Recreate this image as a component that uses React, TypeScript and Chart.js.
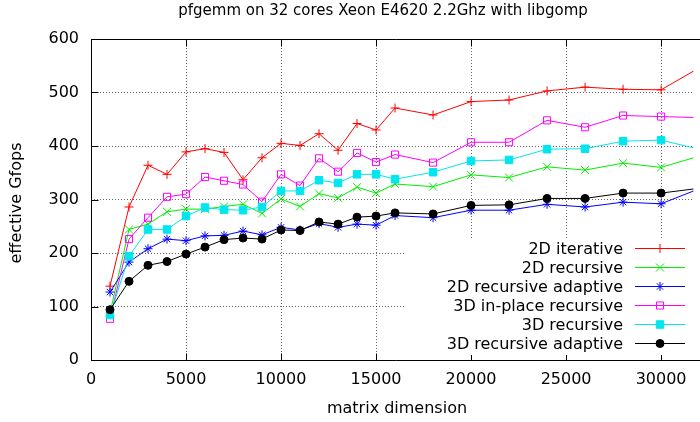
import React, { useEffect, useRef } from 'react';
import { Chart, registerables } from 'chart.js';

Chart.register(...registerables);

const matrixDims = [
  1000, 2000, 3000, 4000, 5000, 6000, 7000, 8000, 9000, 10000, 11000, 12000,
  13000, 14000, 15000, 16000, 18000, 20000, 22000, 24000, 26000, 28000, 30000, 32000,
];

const iterative2D = [138, 286, 364, 347, 389, 395, 388, 337, 378, 405, 401, 423, 392, 442, 430, 471, 458, 483, 486, 503, 510, 506, 505, 546];
const recursive2D = [88, 244, 254, 277, 282, 282, 287, 291, 274, 301, 287, 311, 303, 323, 312, 329, 324, 346, 341, 361, 355, 368, 360, 381];
const recursiveAdaptive2D = [127, 183, 208, 226, 223, 232, 233, 241, 234, 248, 243, 255, 248, 254, 252, 270, 266, 280, 280, 291, 286, 295, 292, 320];
const inPlaceRecursive3D = [77, 226, 266, 305, 310, 342, 335, 328, 296, 347, 326, 377, 352, 387, 370, 384, 369, 407, 407, 448, 435, 457, 455, 453];
const recursive3D = [84, 194, 244, 244, 269, 285, 281, 280, 286, 316, 316, 336, 331, 347, 347, 338, 351, 372, 374, 394, 395, 409, 411, 394];
const recursiveAdaptive3D = [94, 147, 177, 184, 198, 211, 225, 228, 226, 243, 242, 258, 254, 267, 269, 275, 273, 289, 290, 302, 302, 312, 312, 321];

const seriesLabels = [
  '2D iterative',
  '2D recursive',
  '2D recursive adaptive',
  '3D in-place recursive',
  '3D recursive',
  '3D recursive adaptive',
];

const xTickValues = [0, 5000, 10000, 15000, 20000, 25000, 30000];
const yTickValues = [0, 100, 200, 300, 400, 500, 600];

const titleText = 'pfgemm on 32 cores Xeon E4620 2.2Ghz with libgomp';
const xTitle = 'matrix dimension';
const yTitle = 'effective Gfops';

const FONT = '"DejaVu Sans", sans-serif';

function drawMarker(
  ctx: CanvasRenderingContext2D,
  style: string,
  x: number,
  y: number,
  r: number,
  stroke: string,
  fill: string
) {
  ctx.save();
  ctx.setLineDash([]);
  ctx.lineWidth = 1;
  ctx.strokeStyle = stroke;
  ctx.fillStyle = fill;
  ctx.beginPath();
  const o = r * Math.SQRT1_2;
  switch (style) {
    case 'cross':
      ctx.moveTo(x, y - r);
      ctx.lineTo(x, y + r);
      ctx.moveTo(x - r, y);
      ctx.lineTo(x + r, y);
      ctx.stroke();
      break;
    case 'crossRot':
      ctx.moveTo(x - o, y - o);
      ctx.lineTo(x + o, y + o);
      ctx.moveTo(x - o, y + o);
      ctx.lineTo(x + o, y - o);
      ctx.stroke();
      break;
    case 'star':
      ctx.moveTo(x, y - r);
      ctx.lineTo(x, y + r);
      ctx.moveTo(x - r, y);
      ctx.lineTo(x + r, y);
      ctx.moveTo(x - o, y - o);
      ctx.lineTo(x + o, y + o);
      ctx.moveTo(x - o, y + o);
      ctx.lineTo(x + o, y - o);
      ctx.stroke();
      break;
    case 'rect':
      ctx.rect(x - o, y - o, 2 * o, 2 * o);
      ctx.fill();
      ctx.stroke();
      break;
    default:
      ctx.arc(x, y, r, 0, Math.PI * 2);
      ctx.fill();
      ctx.stroke();
  }
  ctx.restore();
}

const gnuplotDecor = {
  id: 'gnuplotDecor',
  beforeDatasetsDraw(chart: any) {
    const { ctx, chartArea: a, scales } = chart;
    const xs = scales.x;
    const ys = scales.y;
    ctx.save();
    ctx.setLineDash([]);
    ctx.strokeStyle = '#000';
    ctx.lineWidth = 1;
    // border (left, top, bottom)
    const L = Math.round(a.left) + 0.5;
    const T = Math.round(a.top) + 0.5;
    const B = Math.round(a.bottom) + 0.5;
    ctx.beginPath();
    ctx.moveTo(a.right + 10, T);
    ctx.lineTo(L, T);
    ctx.lineTo(L, B);
    ctx.lineTo(a.right + 10, B);
    ctx.stroke();
    // inward ticks
    const tl = 7;
    ctx.beginPath();
    xs.ticks.forEach((t: any) => {
      const p = Math.round(xs.getPixelForValue(t.value)) + 0.5;
      ctx.moveTo(p, B);
      ctx.lineTo(p, B - tl);
      ctx.moveTo(p, T);
      ctx.lineTo(p, T + tl);
    });
    ys.ticks.forEach((t: any) => {
      const p = Math.round(ys.getPixelForValue(t.value)) + 0.5;
      ctx.moveTo(L, p);
      ctx.lineTo(L + tl, p);
    });
    ctx.stroke();

    // legend (key) box, opaque
    ctx.fillStyle = '#fff';
    ctx.fillRect(405, 238, 287, 117);
    ctx.font = `16px ${FONT}`;
    ctx.textAlign = 'right';
    ctx.textBaseline = 'alphabetic';
    chart.data.datasets.forEach((ds: any, i: number) => {
      const base = 253.5 + i * 19;
      const ly = Math.round(base - 5.5) + 0.5;
      ctx.fillStyle = '#000';
      ctx.fillText(ds.label, 623, base);
      ctx.beginPath();
      ctx.strokeStyle = ds.borderColor;
      ctx.lineWidth = 1;
      ctx.moveTo(635, ly);
      ctx.lineTo(685, ly);
      ctx.stroke();
      drawMarker(ctx, ds.pointStyle, 660, ly, ds.pointRadius, ds.borderColor, ds.pointBackgroundColor);
    });
    ctx.restore();
  },
  afterDraw(chart: any) {
    const { ctx } = chart;
    ctx.save();
    ctx.fillStyle = '#000';
    ctx.textBaseline = 'alphabetic';
    ctx.textAlign = 'center';
    ctx.font = `15px ${FONT}`;
    ctx.fillText(titleText, 383, 15);
    ctx.font = `16px ${FONT}`;
    ctx.fillText(xTitle, 397, 413);
    ctx.translate(21, 203);
    ctx.rotate(-Math.PI / 2);
    ctx.fillText(yTitle, 0, 0);
    ctx.restore();
  },
};

function makeDataset(label: string, data: number[], color: string, style: string, radius: number, fill: string, order: number) {
  return {
    label,
    data: data.map((v, i) => ({ x: matrixDims[i], y: v })),
    borderColor: color,
    backgroundColor: color,
    borderWidth: 1,
    pointStyle: style,
    pointRadius: radius,
    pointHoverRadius: radius,
    pointBorderWidth: 1,
    pointBorderColor: color,
    pointBackgroundColor: fill,
    tension: 0,
    fill: false,
    order,
  };
}

export default function App() {
  const ref = useRef<HTMLCanvasElement>(null);
  useEffect(() => {
    document.body.style.margin = '0';
    const canvas = ref.current!;
    const chart = new Chart(canvas, {
      type: 'line',
      data: {
        datasets: [
          makeDataset(seriesLabels[0], iterative2D, '#ff0000', 'cross', 4.5, '#ff0000', 6),
          makeDataset(seriesLabels[1], recursive2D, '#00ee00', 'crossRot', 5.6, '#00ee00', 5),
          makeDataset(seriesLabels[2], recursiveAdaptive2D, '#0000ff', 'star', 4.5, '#0000ff', 4),
          makeDataset(seriesLabels[3], inPlaceRecursive3D, '#ff00ff', 'rect', 5, 'rgba(0,0,0,0)', 3),
          makeDataset(seriesLabels[4], recursive3D, '#00e5ee', 'rect', 5.3, '#00e5ee', 2),
          makeDataset(seriesLabels[5], recursiveAdaptive3D, '#000000', 'circle', 4, '#000000', 1),
        ] as any,
      },
      options: {
        animation: false,
        responsive: false,
        events: [],
        layout: { padding: { top: 39, left: 0, right: 0, bottom: 0 } },
        plugins: {
          legend: { display: false },
          title: { display: false },
          tooltip: { enabled: false },
        },
        scales: {
          x: {
            type: 'linear',
            min: 0,
            max: 31700,
            afterFit: (s: any) => {
              s.height = 62;
            },
            afterBuildTicks: (s: any) => {
              s.ticks = xTickValues.map((v) => ({ value: v }));
            },
            ticks: {
              autoSkip: false,
              maxRotation: 0,
              padding: 10,
              color: '#000',
              font: { family: FONT, size: 16 },
              callback: (v: any) => String(v),
            },
            grid: {
              drawTicks: false,
              color: 'rgba(0,0,0,0.6)',
              lineWidth: 1,
            },
            border: { display: false, dash: [1, 2] },
          },
          y: {
            type: 'linear',
            min: 0,
            max: 600,
            afterFit: (s: any) => {
              s.width = 91;
            },
            afterBuildTicks: (s: any) => {
              s.ticks = yTickValues.map((v) => ({ value: v }));
            },
            ticks: {
              padding: 12,
              color: '#000',
              font: { family: FONT, size: 16 },
              callback: (v: any) => String(v),
            },
            grid: {
              drawTicks: false,
              color: 'rgba(0,0,0,0.6)',
              lineWidth: 1,
            },
            border: { display: false, dash: [1, 2] },
          },
        },
      },
      plugins: [gnuplotDecor],
    });
    return () => chart.destroy();
  }, []);
  return (
    <div style={{ width: 700, height: 422, overflow: 'hidden' }}>
      <canvas ref={ref} width={700} height={422} style={{ display: 'block' }} />
    </div>
  );
}
